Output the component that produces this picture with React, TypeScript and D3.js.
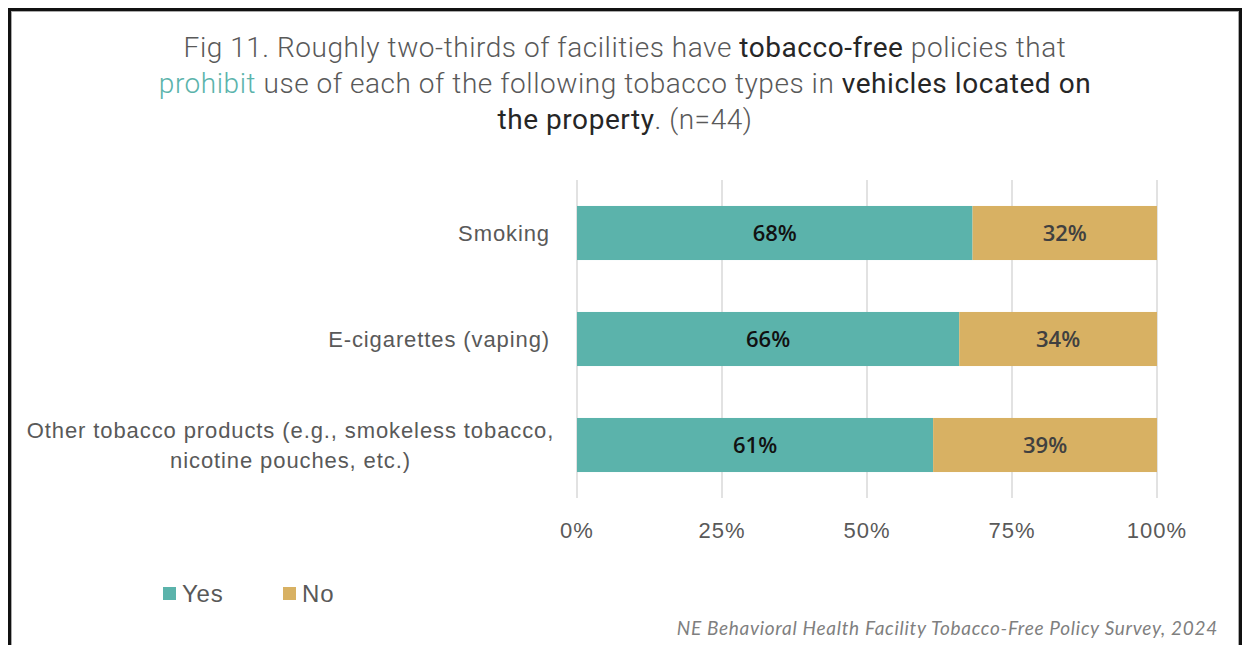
import React from "react";
import * as d3 from "d3";

const categories = ["Smoking", "E-cigarettes (vaping)", "Other tobacco products (e.g., smokeless tobacco,|nicotine pouches, etc.)"];
const yesValues = [68.2, 65.9, 61.4];
const noValues = [31.8, 34.1, 38.6];
const ticks = [0, 25, 50, 75, 100];
const seriesNames = ["Yes", "No"];
const colors = ["#5BB3AB", "#D8B163"];

export default function App() {
  const W = 1246, H = 645;
  const x = d3.scaleLinear().domain([0, 100]).range([577, 1157]);
  const y = d3.scaleBand<string>().domain(categories).range([180, 498]).paddingInner(0.49).paddingOuter(0.245);
  const labelFont = "'Liberation Sans', Arial, sans-serif";
  const titleStyle: React.CSSProperties = { fontFamily: "Roboto, sans-serif", fontWeight: 300, fontSize: 28, letterSpacing: 0.55 };
  return (
    <svg width={W} height={H} style={{ position: "absolute", left: 0, top: 0, background: "#fff" }}>
      <rect x={0} y={0} width={W} height={H} fill="#fff" />
      <rect x={9.5} y={9.5} width={1231} height={700} fill="none" stroke="#111" strokeWidth={3} />
      <rect x={11.5} y={11.5} width={1227} height={700} fill="none" stroke="#aaa" strokeWidth={1} />
      {/* title */}
      <g style={titleStyle} textAnchor="middle">
        <text x={625} y={57} fill="#595959">
          Fig 11. Roughly two-thirds of facilities have <tspan fill="#262626" fontWeight={400}>tobacco-free</tspan> policies that
        </text>
        <text x={625} y={93} fill="#595959">
          <tspan fill="#5BB3AB">prohibit</tspan> use of each of the following tobacco types in <tspan fill="#262626" fontWeight={400}>vehicles located on</tspan>
        </text>
        <text x={625} y={129} fill="#595959">
          <tspan fill="#262626" fontWeight={400}>the property</tspan>. (n=44)
        </text>
      </g>
      {/* gridlines */}
      {ticks.map((t) => (
        <line key={t} x1={x(t)} x2={x(t)} y1={180} y2={498} stroke="#d9d9d9" strokeWidth={1.5} />
      ))}
      {/* bars */}
      {categories.map((c, i) => {
        const y0 = y(c)!;
        const bh = y.bandwidth();
        const yes = yesValues[i];
        const no = noValues[i];
        return (
          <g key={c}>
            <rect x={x(0)} y={y0} width={x(yes) - x(0)} height={bh} fill={colors[0]} />
            <rect x={x(yes)} y={y0} width={x(yes + no) - x(yes)} height={bh} fill={colors[1]} />
            <text x={(x(0) + x(yes)) / 2} y={y0 + bh / 2} dy="0.36em" textAnchor="middle" fontFamily="'Open Sans', sans-serif" fontWeight={600} fontSize={22} fill="#111">
              {Math.round(yes)}%
            </text>
            <text x={(x(yes) + x(yes + no)) / 2} y={y0 + bh / 2} dy="0.36em" textAnchor="middle" fontFamily="'Open Sans', sans-serif" fontWeight={600} fontSize={22} fill="#404040">
              {Math.round(no)}%
            </text>
          </g>
        );
      })}
      {/* category labels */}
      {categories.map((c) => {
        const lines = c.split("|");
        const cy = y(c)! + y.bandwidth() / 2;
        const lh = 30;
        const cx = lines.length > 1 ? 290.5 : 550;
        const anchor = lines.length > 1 ? "middle" : "end";
        return (
          <text key={c} fontFamily={labelFont} fontSize={22} letterSpacing={0.9} fill="#595959" textAnchor={anchor}>
            {lines.map((l, j) => (
              <tspan key={j} x={cx} y={cy + (j - (lines.length - 1) / 2) * lh} dy="0.35em">{l}</tspan>
            ))}
          </text>
        );
      })}
      {/* tick labels */}
      {ticks.map((t) => (
        <text key={t} x={x(t)} y={530} dy="0.35em" textAnchor="middle" fontFamily={labelFont} fontSize={22} letterSpacing={1} fill="#595959">
          {t}%
        </text>
      ))}
      {/* legend */}
      {seriesNames.map((s, i) => {
        const lx = [163, 283][i];
        return (
          <g key={s}>
            <rect x={lx} y={587} width={13} height={13} fill={colors[i]} />
            <text x={lx + 19} y={594} dy="0.35em" fontFamily={labelFont} fontSize={24} letterSpacing={0.8} fill="#595959">{s}</text>
          </g>
        );
      })}
      <text x={1218} y={628} dy="0.35em" textAnchor="end" fontFamily="Lato, 'Open Sans', sans-serif" fontStyle="italic" fontSize={19} letterSpacing={0.7} fill="#7f7f7f">
        NE Behavioral Health Facility Tobacco-Free Policy Survey, 2024
      </text>
    </svg>
  );
}
